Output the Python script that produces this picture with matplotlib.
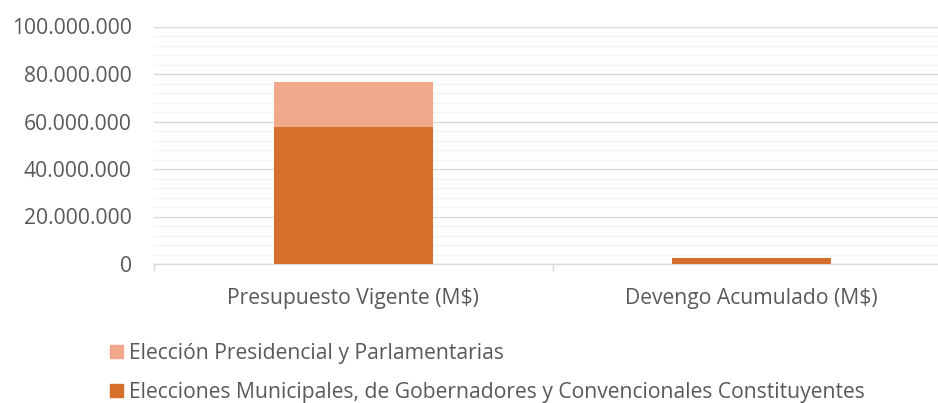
import matplotlib
matplotlib.use("Agg")
import matplotlib.pyplot as plt
from matplotlib.ticker import FuncFormatter, MultipleLocator
from matplotlib.patches import Patch

categories = ["Presupuesto Vigente (M$)", "Devengo Acumulado (M$)"]
series_names = ["Elecciones Municipales, de Gobernadores y Convencionales Constituyentes",
                "Elección Presidencial y Parlamentarias"]
municipales = [57800000, 2650000]
presidencial = [18800000, 0]
yticks = [0, 20000000, 40000000, 60000000, 80000000, 100000000]

c_dark = "#D4702B"
c_light = "#F2A98B"
txt = "#595959"
fs = 15.2

plt.rcParams['font.family'] = ['Open Sans', 'DejaVu Sans']

fig = plt.figure(figsize=(9.38, 4.03), dpi=100)
W, H = 938, 403
x0, x1 = 154, 951
ytop, ybot = 26.5, 264
ax = fig.add_axes([x0 / W, (H - ybot) / H, (x1 - x0) / W, (ybot - ytop) / H])

x = list(range(len(categories)))
ax.bar(x, municipales, width=0.4, color=c_dark, zorder=3)
ax.bar(x, presidencial, width=0.4, bottom=municipales, color=c_light, zorder=3)

ax.set_xlim(-0.5, 1.5)
ax.set_ylim(0, 100000000)
ax.set_yticks(yticks)
ax.yaxis.set_minor_locator(MultipleLocator(4000000))
ax.yaxis.set_major_formatter(FuncFormatter(lambda v, p: f"{int(v):,}".replace(",", ".")))
ax.grid(axis='y', which='major', color="#D9D9D9", linewidth=1.0, zorder=0)
ax.grid(axis='y', which='minor', color="#F2F2F2", linewidth=1.0, zorder=0)

ax.set_xticks(x)
ax.set_xticklabels(categories)
ax.set_xticks([-0.5, 0.5], minor=True)
ax.tick_params(axis='x', which='major', length=0, pad=17, labelsize=fs, colors=txt)
ax.tick_params(axis='x', which='minor', length=5, color="#D9D9D9", width=1)
ax.tick_params(axis='y', which='both', length=0, pad=16, labelsize=fs, colors=txt)

for s in ['top', 'right', 'left']:
    ax.spines[s].set_visible(False)
ax.spines['bottom'].set_color("#D9D9D9")
ax.spines['bottom'].set_linewidth(1.0)

handles = [Patch(color=c_light), Patch(color=c_dark)]
labels = ["Elección Presidencial y Parlamentarias",
          "Elecciones Municipales, de Gobernadores y Convencionales Constituyentes"]
fig.legend(handles, labels, loc='upper left', bbox_to_anchor=(110 / W, 1 - 343 / H),
           frameon=False, fontsize=fs, labelcolor=txt, handlelength=0.6, handleheight=0.6,
           handletextpad=0.3, labelspacing=0.85, borderaxespad=0, borderpad=0)

fig.savefig("out.png", dpi=100)
